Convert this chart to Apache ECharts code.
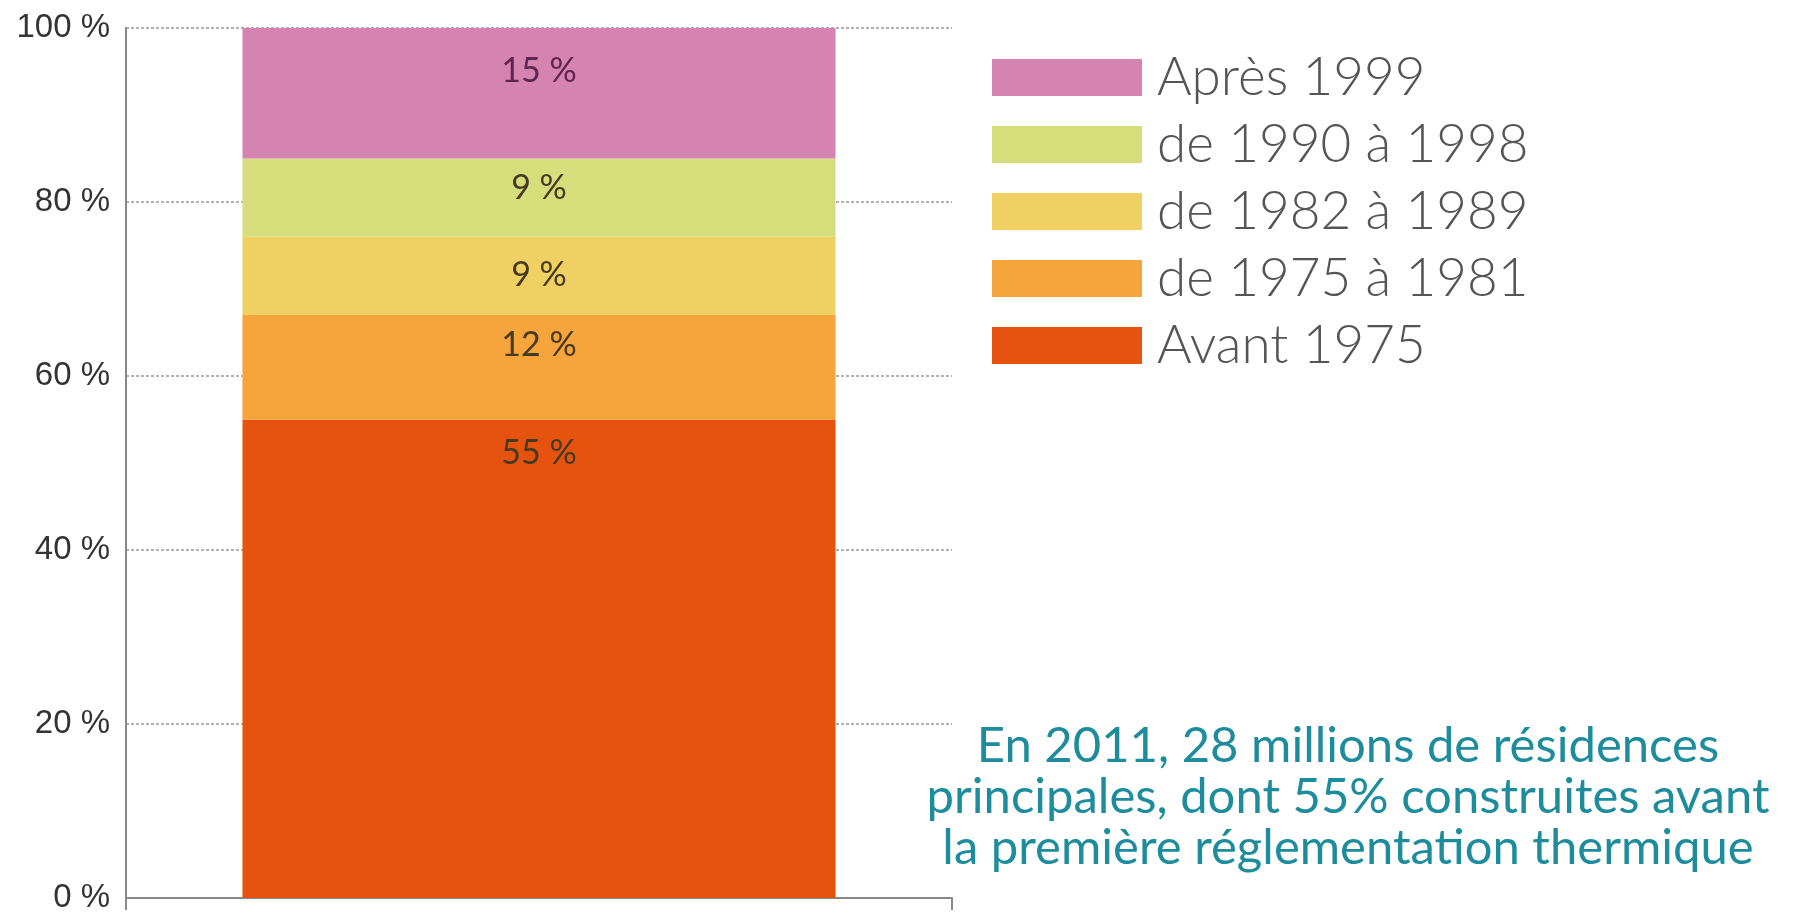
<!DOCTYPE html>
<html>
<head>
<meta charset="utf-8">
<title>Résidences principales par période de construction</title>
<script src="https://cdn.jsdelivr.net/npm/echarts@6/dist/echarts.min.js"></script>
<style>
  html, body { margin: 0; padding: 0; background: #fff; }
  #chart { width: 1794px; height: 918px; }
</style>
</head>
<body>
<div id="chart"></div>
<script>
// données : part des résidences principales par période (de bas en haut)
var categories = ['2011'];
var periodes = ['Avant 1975', 'de 1975 à 1981', 'de 1982 à 1989', 'de 1990 à 1998', 'Après 1999'];
var parts = [55, 12, 9, 9, 15];
var couleurs = ['#e5530f', '#f6a43c', '#f1d063', '#d6de7c', '#d584b2'];
var yTicks = [0, 20, 40, 60, 80, 100];

// décalage des étiquettes sous le haut de chaque segment
var ecartLabel = [17, 13, 21, 13, 26];

var series = periodes.map(function (nom, i) {
    return {
        name: nom,
        type: 'bar',
        stack: 'total',
        barWidth: '71.8%',
        data: [parts[i]],
        itemStyle: { color: couleurs[i] },
        label: {
            show: true,
            position: 'insideTop',
            distance: ecartLabel[i],
            formatter: '{c} %',
            fontFamily: 'Lato',
            fontSize: 34,
            color: i == 4 ? '#5e2452' : '#45391f'
        }
    };
});

var option = {
    animation: false,
    backgroundColor: '#ffffff',
    title: {
        text: 'En 2011, 28 millions de résidences\nprincipales, dont 55% construites avant\nla première réglementation thermique',
        left: 1343,
        top: 716,
        textAlign: 'center',
        textStyle: {
            fontFamily: 'Lato',
            fontWeight: 'normal',
            fontSize: 49,
            lineHeight: 51,
            color: '#1d8c9c'
        }
    },
    legend: {
        data: periodes.slice().reverse(),
        orient: 'vertical',
        left: 987,
        top: 46,
        itemWidth: 150,
        itemHeight: 37,
        itemGap: 14,
        icon: 'rect',
        selectedMode: false,
        textStyle: {
            fontFamily: 'Lato',
            fontWeight: 300,
            fontSize: 53,
            color: '#555555',
            padding: [0, 0, 0, 10]
        }
    },
    grid: { left: 126, right: 842, top: 28, bottom: 20 },
    xAxis: {
        type: 'category',
        data: categories,
        axisLine: { lineStyle: { color: '#888888', width: 2 } },
        axisTick: { show: true, length: 12, lineStyle: { color: '#888888', width: 2 } },
        axisLabel: { show: false }
    },
    yAxis: {
        type: 'value',
        min: 0,
        max: 100,
        interval: 20,
        axisLine: { show: true, lineStyle: { color: '#888888', width: 2 } },
        axisTick: { show: false },
        axisLabel: {
            formatter: function (v) { return yTicks.indexOf(v) >= 0 ? v + ' %' : ''; },
            fontFamily: 'Liberation Sans',
            fontSize: 33,
            color: '#333333',
            margin: 16
        },
        splitLine: { lineStyle: { color: '#999999', width: 1.5, type: [3, 2] } }
    },
    series: series
};

var myChart = echarts.init(document.getElementById('chart'));
myChart.setOption(option);
</script>
</body>
</html>
